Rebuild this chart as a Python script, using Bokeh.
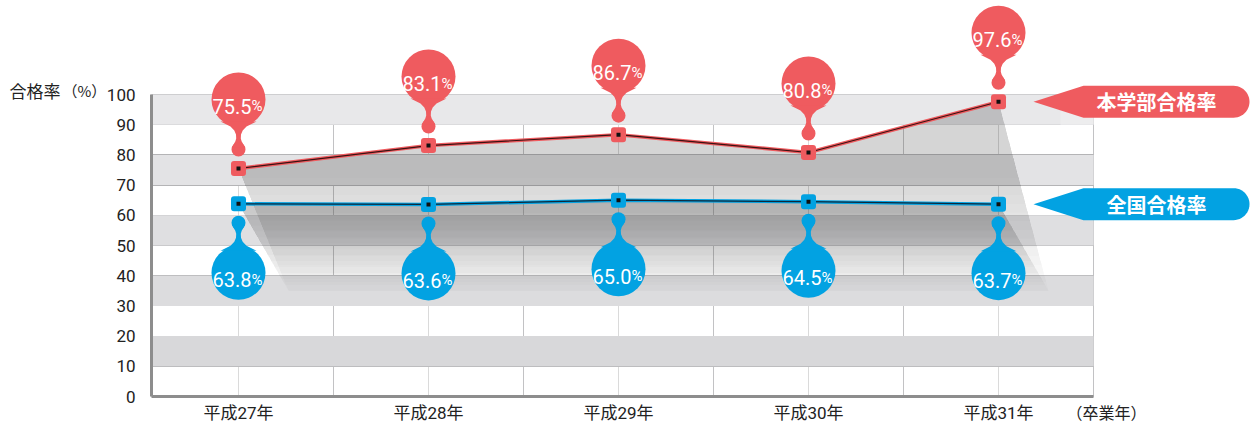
import numpy as np
from bokeh.plotting import figure
from bokeh.models import Range1d, FixedTicker, Label
from bokeh.core.properties import value
from bokeh.embed import file_html
from bokeh.resources import INLINE

# ---- data ----
years = ["平成27年", "平成28年", "平成29年", "平成30年", "平成31年"]
school = [75.5, 83.1, 86.7, 80.8, 97.6]      # 本学部合格率
national = [63.8, 63.6, 65.0, 64.5, 63.7]    # 全国合格率
y_ticks = list(range(0, 101, 10))
x_unit_label = "（卒業年）"
y_title = "合格率"
y_unit = "（%）"
school_name = "本学部合格率"
national_name = "全国合格率"

# ---- style ----
RED = "#ef5b5f"
BLUE = "#02a2e2"
NUM = "Roboto"
CJK = "Noto Sans CJK JP"
PX = 190.0     # px per category
PY = 3.02      # px per percent
W, H = 1250, 422

def bx(page_x):
    return (page_x - 238) / PX

def by(page_y):
    return (396 - page_y) / PY

X0, XR = bx(151), bx(1093)
xi = list(range(len(years)))

p = figure(width=W, height=H,
           x_range=Range1d(bx(0), bx(W)), y_range=Range1d(by(H), by(0)),
           output_backend="svg", toolbar_location=None,
           min_border_left=0, min_border_right=0, min_border_top=0, min_border_bottom=0,
           outline_line_color=None, background_fill_color="white", border_fill_color="white")

# bands
band_b = y_ticks[1:-1:2]
band_t = [b + 10 for b in band_b]
band_c = ["#d8d8da", "#dcdcde", "#dfdfe1", "#e3e3e5", "#e8e8ea"]
p.quad(left=X0, right=XR, bottom=band_b, top=band_t, fill_color=band_c, line_color=None)
# top row continues towards the banner
p.quad(left=XR, right=bx(1060), bottom=90, top=100, fill_color="#ededee", line_color=None)
p.segment(x0=XR, x1=bx(1060), y0=100, y1=100, line_color="#c4c4c6", line_width=1)

# grid
p.ygrid.ticker = FixedTicker(ticks=y_ticks)
p.ygrid.cross_bounds = (X0, XR)
p.ygrid.grid_line_color = "#b4b4b6"
p.ygrid.grid_line_width = 1
p.xgrid.ticker = FixedTicker(ticks=[i + 0.5 for i in xi], minor_ticks=xi)
p.xgrid.cross_bounds = (0, 100)
p.xgrid.grid_line_color = "#c2c2c4"
p.xgrid.minor_grid_line_color = "#dadada"

# shadows (layered to fake a gradient)
SHX = 50 / PX
for vals, a in ((school, 0.016), (national, 0.024)):
    lo = min(vals) - 1
    for L in np.linspace(35, lo - 2, 14):
        f0 = (vals[0] - L) / (vals[0] - 35)
        f1 = (vals[-1] - L) / (vals[-1] - 35)
        xs = xi + [xi[-1] + SHX * f1, xi[0] + SHX * f0]
        ys = list(vals) + [L, L]
        p.patch(xs, ys, fill_color="#55555a", fill_alpha=a, line_color=None)

# axes (drawn at fixed data locations)
for ax in (p.xaxis, p.yaxis):
    ax.axis_line_width = 3
    ax.axis_line_color = "#8d8d8d"
    ax.major_tick_line_color = None
    ax.minor_tick_line_color = None
    ax.major_label_text_color = "#222222"
p.yaxis.fixed_location = X0
p.yaxis.ticker = FixedTicker(ticks=y_ticks)
p.yaxis.bounds = (0, 100)
p.yaxis.major_label_text_font = NUM
p.yaxis.major_label_text_font_size = "17px"
p.yaxis.major_label_standoff = 10
p.xaxis.fixed_location = 0
p.xaxis.ticker = FixedTicker(ticks=xi)
p.xaxis.major_label_overrides = {i: y for i, y in zip(xi, years)}
p.xaxis.bounds = (X0, XR)
p.xaxis.major_label_text_font = NUM + ", " + CJK
p.xaxis.major_label_text_font_size = "17px"
p.xaxis.major_label_standoff = 0

# lines
p.line(xi, school, line_color=RED, line_width=3.5)
p.line(xi, school, line_color="#3a1212", line_width=1.2)
p.line(xi, national, line_color=BLUE, line_width=3.5)
p.line(xi, national, line_color="#10283a", line_width=1.2)

# balloons
NECK_DY = [47, 42, 38, 34, 30, 27, 24, 21]
NECK_HW = [18, 8, 4.2, 2.5, 2.3, 3.2, 5, 6.6]

def neck(x, y, sgn):
    left = [(x - hw / PX, y + sgn * d / PY) for d, hw in zip(NECK_DY, NECK_HW)]
    right = [(x + hw / PX, y + sgn * d / PY) for d, hw in zip(NECK_DY, NECK_HW)][::-1]
    pts = left + right
    return [q[0] for q in pts], [q[1] for q in pts]

for vals, col, sgn in ((school, RED, 1), (national, BLUE, -1)):
    cy = [v + sgn * 69 / PY for v in vals]
    bly = [v + sgn * 19 / PY for v in vals]
    p.scatter(xi, cy, size=54, marker="circle", fill_color=col, line_color=None)
    p.scatter(xi, bly, size=14, marker="circle", fill_color=col, line_color=None)
    nx, ny = zip(*[neck(x, v, sgn) for x, v in zip(xi, vals)])
    p.patches(list(nx), list(ny), fill_color=col, line_color=None)
    p.text([x + 13 / PX for x in xi], [c - 7 / PY for c in cy], text=[f"{v:.1f}" for v in vals],
           text_align="right", text_baseline="alphabetic", text_font=value(NUM),
           text_font_size="20px", text_color="white")
    p.text([x + 13 / PX for x in xi], [c - 7 / PY for c in cy], text=["%"] * len(vals),
           text_align="left", text_baseline="alphabetic", text_font=value(NUM),
           text_font_size="15px", text_color="white")
    # markers
    p.rect(xi, vals, width=15, height=15, width_units="screen", height_units="screen",
           fill_color=col, line_color=None, border_radius=3)
    p.scatter(xi, vals, marker="square", size=4, fill_color="#111111", line_color=None)

# banners
def banner(yc, col, name):
    h = 16
    tip, lx, rx = 1033, 1083, 1249
    cx = rx - h
    xs = [bx(tip), bx(lx)]
    ys = [yc, yc + h / PY]
    for a in np.linspace(np.pi / 2, -np.pi / 2, 25):
        xs.append(bx(cx + h * np.cos(a)))
        ys.append(yc + h * np.sin(a) / PY)
    xs.append(bx(lx)); ys.append(yc - h / PY)
    p.patch(xs, ys, fill_color=col, line_color=None)
    p.text([bx(1156)], [yc], text=[name], text_align="center", text_baseline="middle",
           text_font=value(CJK), text_font_style="bold", text_font_size="20px", text_color="white")

banner(school[-1], RED, school_name)
banner(national[-1], BLUE, national_name)

# titles
p.add_layout(Label(x=bx(9), y=by(90), text=y_title, text_font=CJK,
                   text_font_size="17px", text_color="#222222", text_baseline="middle"))
p.add_layout(Label(x=bx(62), y=by(90), text=y_unit, text_font=CJK,
                   text_font_size="15px", text_color="#222222", text_baseline="middle"))
p.add_layout(Label(x=bx(1066), y=by(411), text=x_unit_label, text_font=CJK,
                   text_font_size="16px", text_color="#222222", text_baseline="middle"))

open("out.html", "w").write(file_html(p, INLINE))
